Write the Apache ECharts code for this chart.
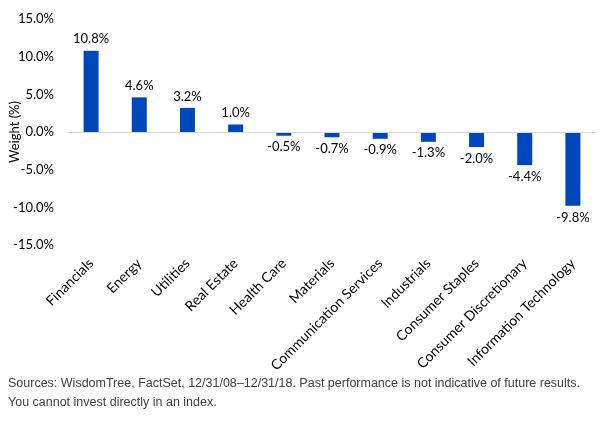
<!DOCTYPE html>
<html>
<head>
<meta charset="utf-8">
<script src="https://cdn.jsdelivr.net/npm/echarts@6/dist/echarts.min.js"></script>
<style>
	html, body { margin: 0; padding: 0; background: #fff; }
	#chart { width: 604px; height: 422px; }
</style>
</head>
<body>
<div id="chart"></div>
<script>
let sectors = [
	"Financials",
	"Energy",
	"Utilities",
	"Real Estate",
	"Health Care",
	"Materials",
	"Communication Services",
	"Industrials",
	"Consumer Staples",
	"Consumer Discretionary",
	"Information Technology",
];
let weights = [10.8, 4.6, 3.2, 1.0, -0.5, -0.7, -0.9, -1.3, -2.0, -4.4, -9.8];
let sourceLines = [
	"Sources: WisdomTree, FactSet, 12/31/08\u201312/31/18. Past performance is not indicative of future results.",
	"You cannot invest directly in an index.",
];

let echarts = window.echarts;
let myChart = echarts.init(document.getElementById("chart"));

let barData = weights.map((v) => {
	return {
		value: v,
		label: { position: v < 0 ? "bottom" : "top" },
	};
});

let option = {
	color: ["#0047BB"],
	textStyle: { fontFamily: "Lato" },
	grid: {
		left: 67,
		right: 7,
		top: 19,
		bottom: 177,
		containLabel: false,
		outerBoundsMode: "none",
	},
	xAxis: {
		type: "category",
		data: sectors,
		axisLine: { onZero: false, show: false },
		axisTick: { show: false },
		axisLabel: {
			rotate: 45,
			interval: 0,
			margin: 16,
			fontSize: 14,
			color: "#000",
		},
	},
	yAxis: {
		type: "value",
		min: -15,
		max: 15,
		interval: 5,
		name: "Weight (%)",
		nameLocation: "middle",
		nameGap: 46,
		nameMoveOverlap: false,
		nameTextStyle: { fontSize: 13, color: "#000" },
		splitLine: { show: false },
		axisLine: { show: false },
		axisTick: { show: false },
		axisLabel: {
			fontSize: 13,
			color: "#000",
			margin: 13,
			formatter: (v) => v.toFixed(1) + "%",
		},
	},
	series: [
		{
			type: "bar",
			barWidth: 15,
			data: barData,
			label: {
				show: true,
				fontSize: 13,
				color: "#000",
				distance: 5,
				formatter: (p) => p.value.toFixed(1) + "%",
			},
			markLine: {
				silent: true,
				symbol: "none",
				label: { show: false },
				lineStyle: { color: "#d9d9d9", type: "solid", width: 1 },
				data: [{ yAxis: 0 }],
			},
		},
	],
	graphic: sourceLines.map((t, i) => {
		return {
			type: "text",
			left: 8,
			top: 377 + i * 19,
			style: {
				text: t,
				fontFamily: "Liberation Sans",
				fontSize: 12.5,
				fill: "#404040",
			},
		};
	}),
};

myChart.setOption(option);
</script>
</body>
</html>
